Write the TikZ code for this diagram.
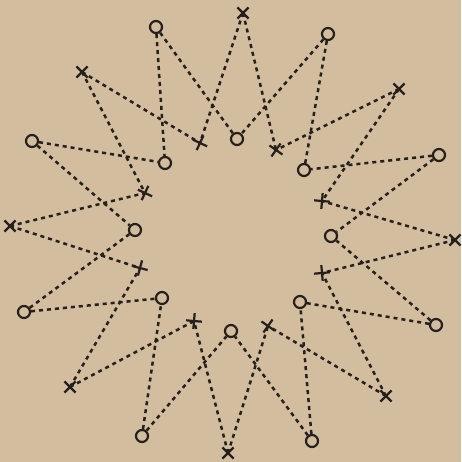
\documentclass[tikz,border=0pt]{standalone}
\usetikzlibrary{shapes.misc}
\definecolor{paper}{RGB}{210,189,158}
\definecolor{ink}{RGB}{38,32,28}
\tikzset{
  ring/.style={circle,draw=ink,line width=2.2pt,minimum size=12pt,inner sep=0pt},
  mark x/.style={cross out,draw=ink,line width=2.2pt,minimum size=9pt,inner sep=0pt},
  dots/.style={draw=ink,line width=2.5pt,dash pattern=on 4pt off 4pt}
}
\begin{document}
\begin{tikzpicture}[x=1pt,y=-1pt]
\fill[paper] (0,0) rectangle (461,462);
\useasboundingbox (0,0) rectangle (461,462);
% outer circles
\node[ring] (oc1) at (156,27) {};
\node[ring] (oc2) at (328,34) {};
\node[ring] (oc3) at (439,155) {};
\node[ring] (oc4) at (436,325) {};
\node[ring] (oc5) at (312,441) {};
\node[ring] (oc6) at (142,436) {};
\node[ring] (oc7) at (24,312) {};
\node[ring] (oc8) at (32,141) {};
% inner circles
\node[ring] (ic1) at (237,139) {};
\node[ring] (ic2) at (304,170) {};
\node[ring] (ic3) at (331,236) {};
\node[ring] (ic4) at (300,302) {};
\node[ring] (ic5) at (231,331) {};
\node[ring] (ic6) at (162,298) {};
\node[ring] (ic7) at (135,230) {};
\node[ring] (ic8) at (165,163) {};
% outer crosses
\node[mark x] (ox1) at (243,13) {};
\node[mark x] (ox2) at (399,89) {};
\node[mark x] (ox3) at (455,240) {};
\node[mark x] (ox4) at (386,396) {};
\node[mark x] (ox5) at (228,453) {};
\node[mark x] (ox6) at (70,387) {};
\node[mark x] (ox7) at (10,226) {};
\node[mark x] (ox8) at (82,72) {};
% inner crosses
\node[mark x,rotate=20] (ix1) at (200,143) {};
\node[mark x,rotate=10] (ix2) at (276,150) {};
\node[mark x,rotate=40] (ix3) at (322,201) {};
\node[mark x,rotate=50] (ix4) at (322,273) {};
\node[mark x,rotate=10] (ix5) at (268,326) {};
\node[mark x,rotate=40] (ix6) at (194,321) {};
\node[mark x,rotate=30] (ix7) at (140,268) {};
\node[mark x,rotate=20] (ix8) at (145,193) {};
% circle connections
\draw[dots] (oc1) -- (ic8);
\draw[dots] (oc1) -- (ic1);
\draw[dots] (oc2) -- (ic1);
\draw[dots] (oc2) -- (ic2);
\draw[dots] (oc3) -- (ic2);
\draw[dots] (oc3) -- (ic3);
\draw[dots] (oc4) -- (ic3);
\draw[dots] (oc4) -- (ic4);
\draw[dots] (oc5) -- (ic4);
\draw[dots] (oc5) -- (ic5);
\draw[dots] (oc6) -- (ic5);
\draw[dots] (oc6) -- (ic6);
\draw[dots] (oc7) -- (ic6);
\draw[dots] (oc7) -- (ic7);
\draw[dots] (oc8) -- (ic7);
\draw[dots] (oc8) -- (ic8);
% cross connections
\draw[dots] (ox1.center) -- (ix1.center);
\draw[dots] (ox1.center) -- (ix2.center);
\draw[dots] (ox2.center) -- (ix2.center);
\draw[dots] (ox2.center) -- (ix3.center);
\draw[dots] (ox3.center) -- (ix3.center);
\draw[dots] (ox3.center) -- (ix4.center);
\draw[dots] (ox4.center) -- (ix4.center);
\draw[dots] (ox4.center) -- (ix5.center);
\draw[dots] (ox5.center) -- (ix5.center);
\draw[dots] (ox5.center) -- (ix6.center);
\draw[dots] (ox6.center) -- (ix6.center);
\draw[dots] (ox6.center) -- (ix7.center);
\draw[dots] (ox7.center) -- (ix7.center);
\draw[dots] (ox7.center) -- (ix8.center);
\draw[dots] (ox8.center) -- (ix8.center);
\draw[dots] (ox8.center) -- (ix1.center);
\end{tikzpicture}
\end{document}
